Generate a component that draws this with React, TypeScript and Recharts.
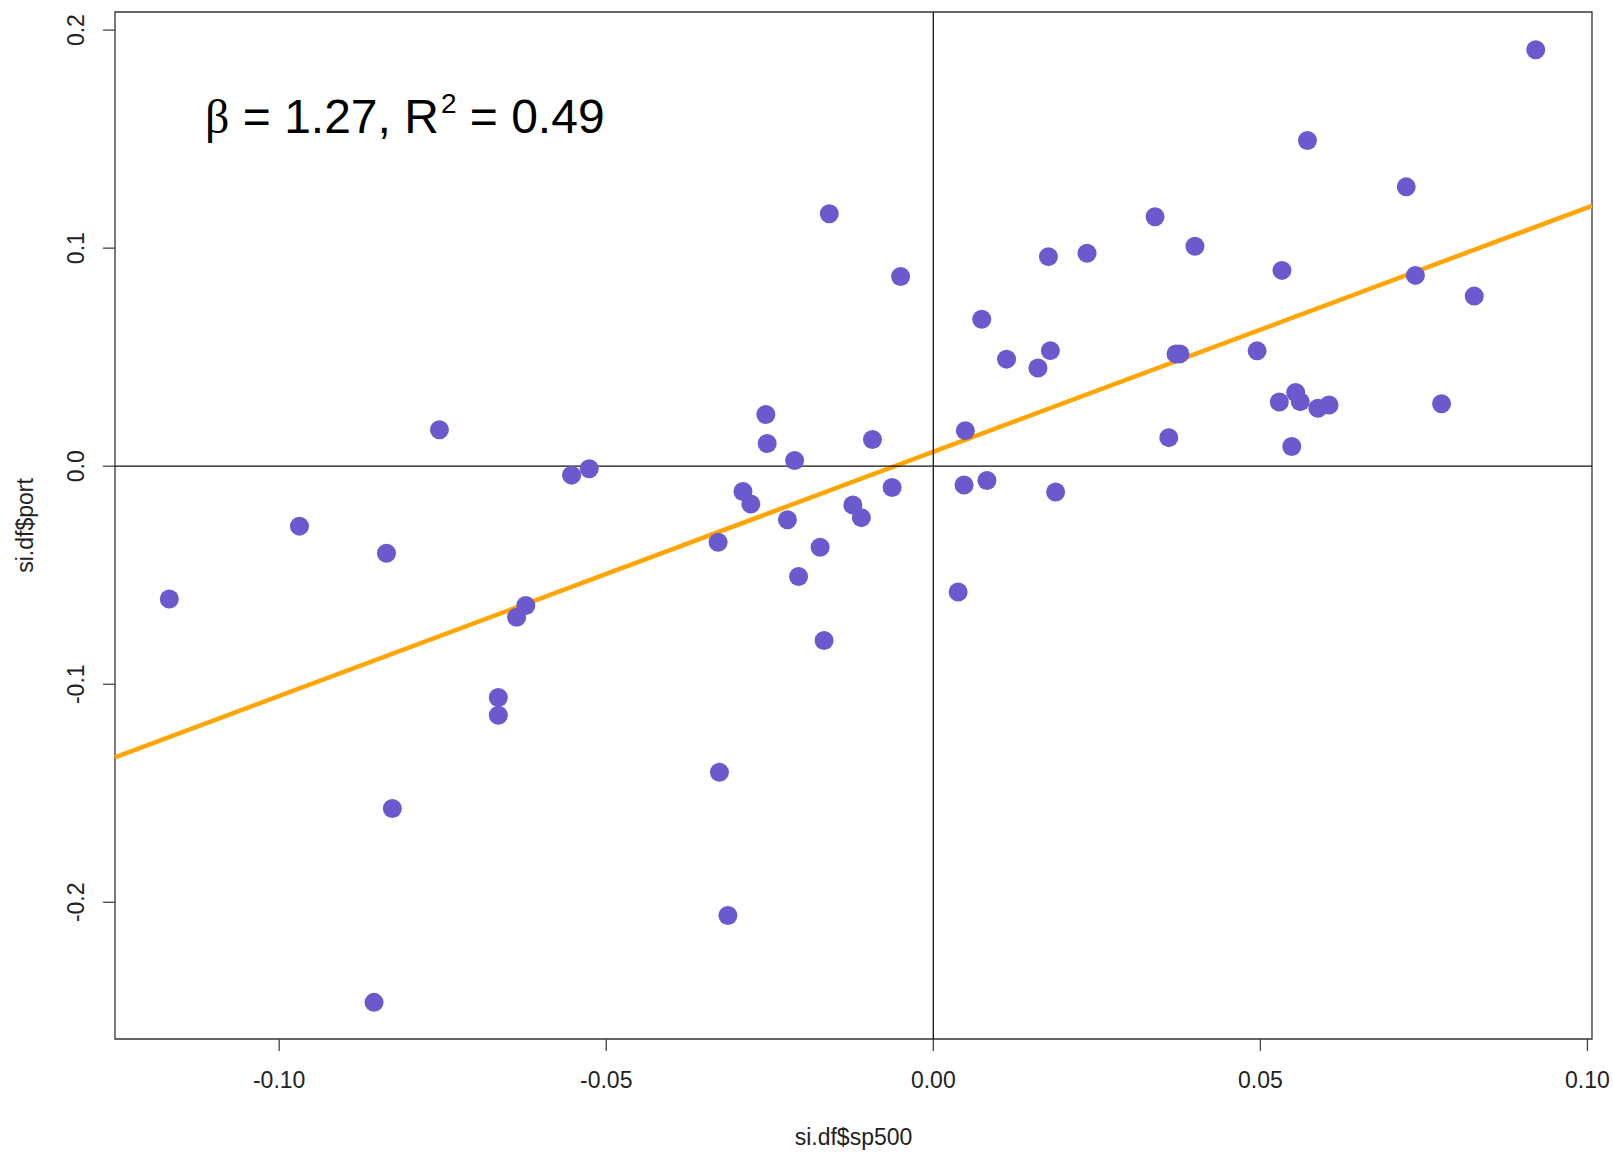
import React from 'react';
import {
  ScatterChart,
  Scatter,
  XAxis,
  YAxis,
  ReferenceLine,
  ReferenceArea,
} from 'recharts';

const spX = [
  -0.1168, -0.0969, -0.0836, -0.0855, -0.0827, -0.0755, -0.0665, -0.0665, -0.0637, -0.0623,
  -0.0553, -0.0526, -0.0329, -0.0327, -0.0314, -0.0291, -0.0279, -0.0256, -0.0254, -0.0223,
  -0.0212, -0.0206, -0.0173, -0.0167, -0.0159, -0.0123, -0.011, -0.0093, -0.0063, -0.005,
  0.0038, 0.0047, 0.0049, 0.0074, 0.0082, 0.0112, 0.016, 0.0176, 0.0179, 0.0187,
  0.0235, 0.0339, 0.036, 0.0371, 0.0377, 0.04, 0.0495, 0.0529, 0.0533, 0.0548,
  0.0554, 0.0561, 0.0572, 0.0588, 0.0605, 0.0723, 0.0737, 0.0777, 0.0827, 0.0921,
];

const portY = [
  -0.0609, -0.0275, -0.0399, -0.2459, -0.157, 0.0167, -0.1061, -0.1142, -0.0693, -0.0639,
  -0.0041, -0.0012, -0.0349, -0.1404, -0.2061, -0.0116, -0.0173, 0.0237, 0.0104, -0.0246,
  0.0026, -0.0506, -0.0372, -0.0799, 0.1158, -0.0178, -0.0236, 0.0122, -0.0098, 0.087,
  -0.0577, -0.0086, 0.0163, 0.0674, -0.0066, 0.0491, 0.045, 0.0961, 0.053, -0.0118,
  0.0977, 0.1144, 0.0131, 0.0515, 0.0515, 0.1009, 0.0529, 0.0294, 0.0898, 0.009,
  0.0338, 0.0296, 0.1494, 0.0266, 0.0281, 0.1281, 0.0875, 0.0286, 0.078, 0.191,
];

const xTicks = [-0.1, -0.05, 0, 0.05, 0.1];
const yTicks = [-0.2, -0.1, 0, 0.1, 0.2];
const xDomain = [-0.1251, 0.1007];
const yDomain = [-0.2627, 0.2083];

// fitted line end points
const fitX = [-0.1251, 0.1007];
const fitY = [-0.1335, 0.1194];

const points = spX.map((x, i) => ({ x, y: portY[i] }));

const FONT = "Arial, 'Liberation Sans', sans-serif";
const TEXT = '#222';

function XTick({ x, y, payload }: any) {
  return (
    <text x={x} y={y + 35} textAnchor="middle" fontSize={23} fontFamily={FONT} fill={TEXT}>
      {payload.value.toFixed(2)}
    </text>
  );
}

function YTick({ x, y, payload }: any) {
  const cx = x - 25;
  return (
    <text
      x={cx}
      y={y}
      transform={`rotate(-90, ${cx}, ${y})`}
      textAnchor="middle"
      dominantBaseline="central"
      fontSize={23}
      fontFamily={FONT}
      fill={TEXT}
    >
      {payload.value.toFixed(1)}
    </text>
  );
}

function Dot({ cx, cy }: any) {
  return <circle cx={cx} cy={cy} r={9.5} fill="#6A5ACD" />;
}

export default function App() {
  return (
    <div style={{ position: 'absolute', left: 0, top: 0, width: 1613, height: 1152, background: '#fff' }}>
      <ScatterChart width={1613} height={1152} margin={{ top: 12, right: 21, bottom: 0, left: 0 }}>
        <XAxis
          type="number"
          dataKey="x"
          domain={xDomain}
          allowDataOverflow
          ticks={xTicks}
          interval={0}
          height={113}
          tickSize={12}
          axisLine={false}
          tickLine={{ stroke: '#444', strokeWidth: 1.3 }}
          tick={<XTick />}
          label={{
            content: ({ viewBox }: any) => (
              <text
                x={viewBox.x + viewBox.width / 2}
                y={1145}
                textAnchor="middle"
                fontSize={23}
                fontFamily={FONT}
                fill={TEXT}
              >
                si.df$sp500
              </text>
            ),
          }}
        />
        <YAxis
          type="number"
          dataKey="y"
          domain={yDomain}
          allowDataOverflow
          ticks={yTicks}
          interval={0}
          width={115}
          tickSize={12}
          axisLine={false}
          tickLine={{ stroke: '#444', strokeWidth: 1.3 }}
          tick={<YTick />}
          label={{
            content: ({ viewBox }: any) => {
              const cy = viewBox.y + viewBox.height / 2;
              return (
                <text
                  x={25}
                  y={cy}
                  transform={`rotate(-90, 25, ${cy})`}
                  textAnchor="middle"
                  dominantBaseline="central"
                  fontSize={23}
                  fontFamily={FONT}
                  fill={TEXT}
                >
                  si.df$port
                </text>
              );
            },
          }}
        />
        <Scatter data={points} shape={<Dot />} isAnimationActive={false} />
        <ReferenceLine
          segment={[
            { x: fitX[0], y: fitY[0] },
            { x: fitX[1], y: fitY[1] },
          ]}
          stroke="#FFA500"
          strokeWidth={4.5}
        />
        <ReferenceLine x={0} stroke="#111" strokeWidth={1.3} />
        <ReferenceLine y={0} stroke="#111" strokeWidth={1.3} />
        <ReferenceArea
          x1={xDomain[0]}
          x2={xDomain[1]}
          y1={yDomain[0]}
          y2={yDomain[1]}
          fill="none"
          fillOpacity={0}
          stroke="#333"
          strokeWidth={1.3}
        />
      </ScatterChart>
      <svg
        width={700}
        height={160}
        style={{ position: 'absolute', left: 0, top: 0, pointerEvents: 'none' }}
      >
        <text x={205} y={133} fontSize={48} fontFamily={FONT} fill="#000">
          <tspan fontFamily="'Liberation Serif', 'DejaVu Serif', serif">β</tspan>
          <tspan> = 1.27, R</tspan>
          <tspan fontSize={28} dy={-20} dx={2}>2</tspan>
          <tspan dy={20}> = 0.49</tspan>
        </text>
      </svg>
    </div>
  );
}
